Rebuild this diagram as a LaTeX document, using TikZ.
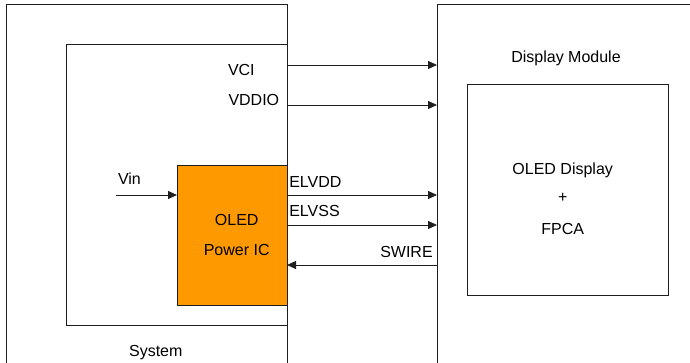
\documentclass[tikz,border=0pt]{standalone}
\usepackage{fontspec}
\setmainfont{Liberation Sans}
\usetikzlibrary{arrows.meta}
\definecolor{icorange}{RGB}{255,153,0}
\definecolor{linec}{RGB}{30,30,30}
\begin{document}
\begin{tikzpicture}[x=1pt,y=-1pt,
  box/.style={draw=linec, line width=0.8pt, anchor=north west, inner sep=0pt, outer sep=0pt},
  lbl/.style={inner sep=0pt, outer sep=0pt, font=\fontsize{16}{19}\selectfont},
  arr/.style={draw=linec, line width=0.8pt, -{Triangle[length=9pt,width=8pt]}}]
\useasboundingbox (0,0) rectangle (690,363);
\clip (0,0) rectangle (690,363);
\fill[white] (0,0) rectangle (690,363);
% boxes
\node[box, minimum width=280.5pt, minimum height=420pt] (sys) at (6.5,4.5) {};
\node[box, minimum width=220.5pt, minimum height=281pt] (inner) at (66.5,44) {};
\node[box, fill=icorange, minimum width=110pt, minimum height=140pt] (ic) at (177,165) {};
\node[box, minimum width=300pt, minimum height=420pt] (dm) at (437,4.5) {};
\node[box, minimum width=200.6pt, minimum height=210.3pt] (disp) at (467.7,84.7) {};
% labels
\node[lbl, anchor=base west] (vci) at (228,76) {VCI};
\node[lbl, anchor=base west] (vddio) at (228.5,106) {VDDIO};
\node[lbl, anchor=base west] (vin) at (118,185) {Vin};
\node[lbl, anchor=base] (ictxt1) at (236.7,225.3) {OLED};
\node[lbl, anchor=base] (ictxt2) at (236.7,255) {Power IC};
\node[lbl, anchor=base west] (elvdd) at (289.3,187.3) {ELVDD};
\node[lbl, anchor=base west] (elvss) at (289.3,217) {ELVSS};
\node[lbl, anchor=base east] (swire) at (432.7,257.3) {SWIRE};
\node[lbl, anchor=base] (dmtxt) at (566,63) {Display Module};
\node[lbl, anchor=base] (disptxt1) at (562.7,174.5) {OLED Display};
\node[lbl, anchor=center] (plus) at (562.7,198) {+};
\node[lbl, anchor=base] (disptxt2) at (562.7,234.5) {FPCA};
\node[lbl, anchor=base] (systxt) at (155.8,356.7) {System};
% connectors
\coordinate (vinstart) at (116,195);
\draw[arr] (vinstart) -- (ic.west |- vinstart);
\draw[arr] (inner.east |- 0,65) -- (dm.west |- 0,65);
\draw[arr] (inner.east |- 0,105) -- (dm.west |- 0,105);
\draw[arr] (ic.east |- 0,195) -- (dm.west |- 0,195);
\draw[arr] (ic.east |- 0,225) -- (dm.west |- 0,225);
\draw[arr] (dm.west |- 0,265) -- (ic.east |- 0,265);
\end{tikzpicture}
\end{document}
